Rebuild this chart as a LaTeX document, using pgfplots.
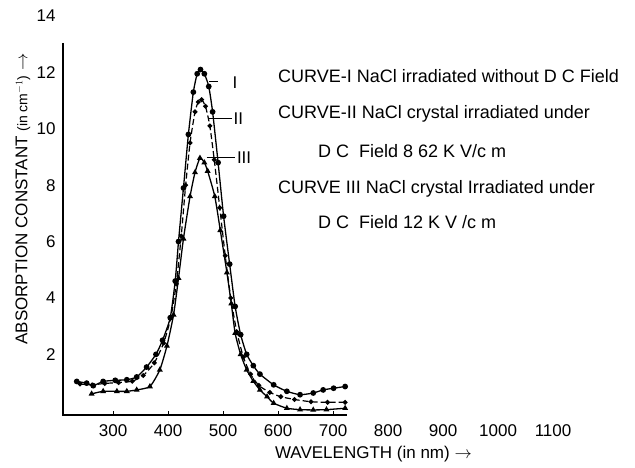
\documentclass[border=0pt]{standalone}
\usepackage{fontspec}
\setmainfont{Liberation Sans}
\usepackage{pgfplots}
\pgfplotsset{compat=1.18}
\begin{document}
\begin{tikzpicture}[x=1pt,y=1pt]
\useasboundingbox (-63,-52) rectangle (572,415);
\begin{axis}[
  at={(0,0)}, anchor=south west,
  scale only axis, width=517.55pt, height=413.13pt,
  xmin=209, xmax=1150, ymin=-0.15, ymax=14.5,
  axis line style={draw=none},
  clip=false,
  xtick pos=bottom, ytick pos=left,
  xtick={300,400,500,600,700},
  extra x ticks={800,900,1000,1100},
  extra x tick style={major tick length=0pt},
  ytick={2,4,...,14},
  ytick style={draw=none},
  tick align=inside, major tick length=4pt,
  xtick style={black, line width=1pt},
  tick label style={font=\fontsize{17}{20}\selectfont},
  /pgf/number format/assume math mode=true,
  /pgf/number format/1000 sep={},
  scaled ticks=false,
  x tick label style={yshift=-6pt},
  y tick label style={xshift=-4pt},
]
\draw[line width=1.3pt] (axis cs:209,13.05) -- (axis cs:209,-0.15) -- (axis cs:725,-0.15);

% Curve I
\addplot[black, line width=1.3pt, smooth, tension=0.35, mark=*, mark size=2.2pt] coordinates {
(234,1.04)(252,0.98)(264,0.89)(282,1.04)(304,1.08)(325,1.10)(343,1.20)(361,1.55)(378,2.0)(390,2.5)(404,3.3)(413,4.6)(419,6.0)(428,7.9)(437,9.8)(446,11.3)(453,11.95)(459,12.1)(466,11.95)(474,11.5)(481,10.6)(491,8.8)(501,6.9)(512,5.2)(522,3.7)(532,2.7)(543,2.0)(555,1.6)(567,1.3)(592,0.92)(616,0.69)(640,0.57)(664,0.63)(682,0.74)(701,0.80)(722,0.86)
};
% Curve II
\addplot[black, line width=1.2pt, dash pattern=on 6pt off 3pt, smooth, tension=0.35, mark=*, mark size=1.8pt, mark options={solid}] coordinates {
(240,0.95)(262,0.92)(285,0.97)(310,1.0)(335,1.05)(355,1.25)(375,1.7)(392,2.4)(405,3.3)(415,4.5)(424,6.2)(432,8.0)(440,9.5)(449,10.6)(455,10.95)(461,11.03)(468,10.8)(476,10.1)(484,8.9)(494,7.2)(504,5.5)(514,4.0)(525,2.8)(537,1.9)(550,1.3)(565,0.9)(585,0.65)(605,0.5)(630,0.4)(660,0.32)(690,0.3)(722,0.3)
};
% Curve III
\addplot[black, line width=1.3pt, smooth, tension=0.35, mark=triangle*, mark size=2.2pt] coordinates {
(261,0.60)(282,0.69)(307,0.69)(325,0.69)(343,0.74)(367,0.86)(385,1.45)(398,2.3)(410,3.4)(419,4.7)(428,6.1)(440,7.6)(449,8.45)(458,8.96)(466,8.8)(472,8.5)(485,7.6)(495,6.4)(507,4.9)(515,3.8)(522,2.75)(532,2.0)(543,1.45)(555,1.05)(567,0.74)(580,0.5)(592,0.27)(616,0.09)(640,0.04)(664,0.03)(688,0.04)(722,0.09)
};

\draw[line width=1pt] (axis cs:475,11.68) -- (axis cs:490,11.68);
\node[anchor=west, inner sep=0pt, font=\fontsize{17}{20}\selectfont] at (axis cs:517,11.62) {I};
\draw[line width=1pt] (axis cs:473,10.35) -- (axis cs:516,10.35);
\node[anchor=west, inner sep=0pt, font=\fontsize{17}{20}\selectfont] at (axis cs:519,10.35) {II};
\draw[line width=1pt] (axis cs:470,8.98) -- (axis cs:522,8.98);
\node[anchor=west, inner sep=0pt, font=\fontsize{17}{20}\selectfont] at (axis cs:525,8.96) {III};
\end{axis}

\begin{scope}[every node/.style={anchor=base west, inner sep=0pt, font=\fontsize{18}{21}\selectfont}]
\node at (215,333) {CURVE-I NaCl irradiated without D C Field};
\node at (215,297) {CURVE-II NaCl crystal irradiated under};
\node at (255,258) {D C\ \ Field 8 62 K V/c m};
\node at (215,222) {CURVE III NaCl crystal Irradiated under};
\node at (255,187) {D C\ \ Field 12 K V /c m};
\end{scope}

\node[anchor=base east, inner sep=0pt, font=\fontsize{17}{20}\selectfont] at (409,-43) {WAVELENGTH (in nm) $\rightarrow$};
\node[rotate=90, inner sep=0pt, font=\fontsize{17}{20}\selectfont] at (-40,216) {ABSORPTION CONSTANT {\fontsize{14}{16}\selectfont(in cm$^{-1}$)} $\rightarrow$};
\end{tikzpicture}
\end{document}
